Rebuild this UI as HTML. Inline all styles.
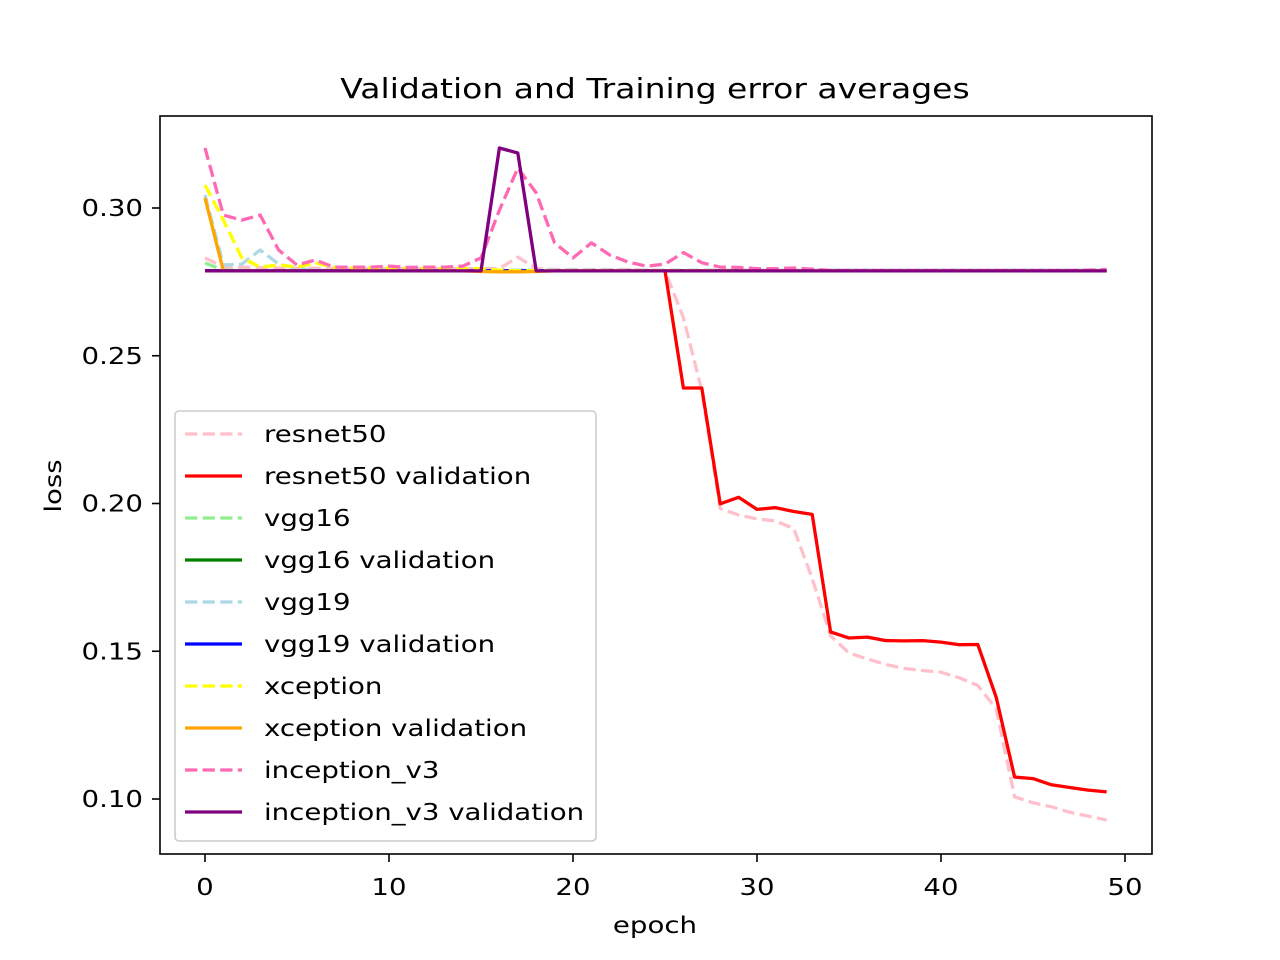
<!DOCTYPE html>
<html><head><meta charset="utf-8"><style>
body{margin:0;background:#fff}
svg{display:block;font-family:"DejaVu Sans","Liberation Sans",sans-serif}
</style></head><body>
<svg id="chart" width="1280" height="960" viewBox="0 0 1280 960">
<rect x="0" y="0" width="1280" height="960" fill="#fff"/>
<text class="st" x="655" y="98" font-size="27.5" text-anchor="middle">Validation and Training error averages</text>
<g id="series"></g>
<rect x="160" y="116" width="992" height="738" fill="none" stroke="#000" stroke-width="1.6"/>
<g id="xticks"></g>
<g id="yticks"></g>
<text class="st" x="655" y="933" font-size="23" text-anchor="middle">epoch</text>
<text class="st" x="0" y="0" font-size="23" text-anchor="middle" transform="translate(61,486) rotate(-90)">loss</text>
<g id="legend"></g>
</svg>
<script>
const B=0.2787;
const epochs=Array.from({length:50},(_,i)=>i);
const resnet50=[0.2831,0.2800,0.2800,0.2798,0.2797,0.2796,0.2796,0.2796,0.2795,0.2795,0.2795,0.2795,0.2795,0.2795,0.2795,0.2795,0.2795,0.2834,0.2795,0.2792,0.2792,0.2792,0.2792,0.2792,0.2790,0.2787,0.2629,0.2382,0.1983,0.1961,0.1948,0.1941,0.1915,0.1746,0.1552,0.1494,0.1474,0.1455,0.1442,0.1435,0.1429,0.1410,0.1384,0.1305,0.1007,0.0987,0.0974,0.0955,0.0942,0.0929];
const resnet50Val=[B,B,B,B,B,B,B,B,B,B,B,B,B,B,B,B,B,B,B,B,B,B,B,B,B,B,0.2391,0.2391,0.1999,0.2021,0.1980,0.1986,0.1973,0.1963,0.1565,0.1545,0.1548,0.1536,0.1535,0.1536,0.1531,0.1522,0.1523,0.1344,0.1074,0.1069,0.1048,0.1039,0.1030,0.1024];
const vgg16=[0.2814,0.2790,0.2789,0.2788,0.2788,0.2788,0.2788,0.2788,0.2788,0.2788,0.2788,0.2788,0.2788,0.2788,0.2788,0.2788,0.2788,0.2788,0.2788,0.2788,0.2788,0.2788,0.2788,0.2788,0.2788,0.2788,0.2788,0.2788,0.2788,0.2788,0.2788,0.2788,0.2788,0.2788,0.2788,0.2788,0.2788,0.2788,0.2788,0.2788,0.2788,0.2788,0.2788,0.2788,0.2788,0.2788,0.2788,0.2788,0.2788,0.2788];
const vgg16Val=epochs.map(()=>B);
const vgg19=[0.3044,0.2807,0.2810,0.2858,0.2810,0.2795,0.2790,0.2790,0.2790,0.2790,0.2790,0.2790,0.2790,0.2790,0.2790,0.2790,0.2790,0.2790,0.2790,0.2790,0.2790,0.2790,0.2790,0.2790,0.2790,0.2790,0.2790,0.2790,0.2790,0.2790,0.2790,0.2790,0.2790,0.2790,0.2790,0.2790,0.2790,0.2790,0.2790,0.2790,0.2790,0.2790,0.2790,0.2790,0.2790,0.2790,0.2790,0.2790,0.2790,0.2790];
const vgg19Val=epochs.map(()=>B);
const xception=[0.3078,0.2959,0.2831,0.2800,0.2807,0.2800,0.2814,0.2800,0.2798,0.2797,0.2797,0.2796,0.2796,0.2795,0.2795,0.2795,0.2790,0.2788,0.2788,0.2788,0.2788,0.2788,0.2788,0.2788,0.2788,0.2788,0.2788,0.2788,0.2788,0.2788,0.2788,0.2788,0.2788,0.2788,0.2788,0.2788,0.2788,0.2788,0.2788,0.2788,0.2788,0.2788,0.2788,0.2788,0.2788,0.2788,0.2788,0.2788,0.2788,0.2788];
const xceptionVal=[0.3034,B,B,B,B,B,B,B,B,B,B,B,B,B,B,0.2785,0.2784,0.2784,0.2785,B,B,B,B,B,B,B,B,B,B,B,B,B,B,B,B,B,B,B,B,B,B,B,B,B,B,B,B,B,B,B];
const inception=[0.3203,0.2976,0.2959,0.2976,0.2858,0.2807,0.2824,0.2800,0.2800,0.2800,0.2803,0.2799,0.2800,0.2800,0.2803,0.2831,0.2993,0.3135,0.3051,0.2882,0.2831,0.2882,0.2841,0.2817,0.2803,0.2810,0.2849,0.2815,0.2800,0.2799,0.2795,0.2795,0.2797,0.2793,0.2789,0.2789,0.2789,0.2789,0.2789,0.2789,0.2789,0.2789,0.2789,0.2789,0.2789,0.2789,0.2789,0.2789,0.2790,0.2792];
const inceptionVal=[B,B,B,B,B,B,B,B,B,B,B,B,B,B,B,B,0.3203,0.3186,B,B,B,B,B,B,B,B,B,B,B,B,B,B,B,B,B,B,B,B,B,B,B,B,B,B,B,B,B,B,B,B];
const xTicks=[0,10,20,30,40,50];
const yTicks=[0.10,0.15,0.20,0.25,0.30];
const seriesNames=["resnet50","resnet50 validation","vgg16","vgg16 validation","vgg19","vgg19 validation","xception","xception validation","inception_v3","inception_v3 validation"];
const seriesData=[resnet50,resnet50Val,vgg16,vgg16Val,vgg19,vgg19Val,xception,xceptionVal,inception,inceptionVal];
const colors=["pink","red","lightgreen","green","lightblue","blue","yellow","orange","hotpink","purple"];

const NS="http://www.w3.org/2000/svg";
const xs=e=>205+e*18.4;
const ys=v=>208+(0.30-v)*2955;
function mk(tag,attrs,parent){const el=document.createElementNS(NS,tag);for(const k in attrs)el.setAttribute(k,attrs[k]);parent.appendChild(el);return el;}
const sg=document.getElementById('series');
seriesData.forEach((d,i)=>{
  const pts=d.map((v,j)=>xs(epochs[j]).toFixed(1)+','+ys(v).toFixed(1)).join(' ');
  const a={points:pts,fill:'none',stroke:colors[i],'stroke-width':3.3,'stroke-linejoin':'round'};
  if(i%2===0)a['stroke-dasharray']='12.3 5.3';
  const el=mk('polyline',a,sg);
  
  
});
const xg=document.getElementById('xticks');
xTicks.forEach(t=>{
  const x=xs(t);
  const l=mk('line',{x1:x,x2:x,y1:854,y2:862,stroke:'#000','stroke-width':1.6},xg);
  
  
  const tx=mk('text',{x:x,y:895,'font-size':23,'text-anchor':'middle','class':'st'},xg);
  tx.textContent=t;
  
  
});
const yg=document.getElementById('yticks');
yTicks.forEach(t=>{
  const y=ys(t);
  const l=mk('line',{x1:152,x2:160,y1:y,y2:y,stroke:'#000','stroke-width':1.6},yg);
  
  
  const tx=mk('text',{x:143,y:y+8,'font-size':23,'text-anchor':'end','class':'st'},yg);
  tx.textContent=t.toFixed(2);
  
  
});
const lg=document.getElementById('legend');
const box=mk('rect',{x:175,y:411,width:421,height:430,rx:4,fill:'#fff','fill-opacity':0.8,stroke:'#ccc','stroke-width':1.6},lg);


seriesNames.forEach((n,i)=>{
  const y=434+i*42;
  const a={x1:185,x2:242,y1:y,y2:y,stroke:colors[i],'stroke-width':3.3};
  if(i%2===0)a['stroke-dasharray']='12.3 5.3';
  const l=mk('line',a,lg);
  
  
  const tx=mk('text',{x:264,y:y+8,'font-size':23,'class':'st'},lg);
  tx.textContent=n;
  
  
});
document.querySelectorAll('text.st').forEach(t=>{
  const w=t.getComputedTextLength();
  t.setAttribute('textLength',(w*1.2).toFixed(1));
  t.setAttribute('lengthAdjust','spacingAndGlyphs');
});
</script>
</body></html>
